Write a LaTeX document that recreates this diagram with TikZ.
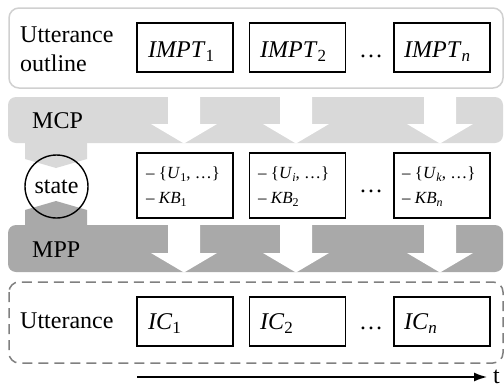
\documentclass[tikz,border=0pt]{standalone}
\usepackage{fontspec}
\setmainfont{LiberationSerif}[Extension=.ttf, UprightFont=*-Regular, ItalicFont=*-Italic, BoldFont=*-Bold, BoldItalicFont=*-BoldItalic]
\usetikzlibrary{arrows.meta}
\definecolor{bandlight}{HTML}{D9D9D9}
\definecolor{banddark}{HTML}{A9A9A9}
\definecolor{outlinegray}{HTML}{D0D0D0}
\definecolor{dashgray}{HTML}{808080}
\newcommand{\subL}[1]{\raisebox{-4pt}{\fontsize{17}{17}\selectfont #1}}
\newcommand{\subS}[1]{\raisebox{-3pt}{\fontsize{12}{12}\selectfont #1}}
\tikzset{
  big/.style={font=\rmfamily\fontsize{24}{30}\selectfont},
  lbl/.style={big, anchor=base west, inner sep=0pt, align=left},
  itembox/.style={draw, line width=1.4pt, minimum width=96pt, inner sep=0pt},
  itemtext/.style={big, anchor=base west, inner sep=0pt},
  smalltext/.style={font=\rmfamily\fontsize{17}{25}\selectfont, anchor=base west, inner sep=0pt, align=left},
  cutarrow/.style={fill=white}
}
\begin{document}
\begin{tikzpicture}[x=1pt,y=-1pt]
\useasboundingbox (0,0) rectangle (504,386);
% ---------- top: utterance outline
\draw[outlinegray, line width=1.5pt, rounded corners=10pt] (9,8) rectangle (503,88);
\node[lbl] (ol1) at (20,42) {Utterance};
\node[lbl] (ol2) at (20,71) {outline};
\node[itembox, minimum height=49pt] (i1) at (185,47.5) {};
\node[itembox, minimum height=49pt] (i2) at (297.5,47.5) {};
\node[itembox, minimum height=49pt] (i3) at (442,47.5) {};
\node[itemtext] (i1t) at (148,57) {\textit{IMPT}\subL{1}};
\node[itemtext] (i2t) at (260,57) {\textit{IMPT}\subL{2}};
\node[itemtext] (i3t) at (404,57) {\textit{IMPT}\subL{\textit{n}}};
\node[itemtext] (idots) at (359,57) {\dots};
% ---------- MCP band
\fill[bandlight, rounded corners=8pt] (8,97) rectangle (503,143);
\fill[bandlight] (25,140) -- (25,159) -- (56,168) -- (87,159) -- (87,140) -- cycle;
\foreach \c in {184,296,440}{
  \fill[cutarrow] (\c-16,96) -- (\c-16,124) -- (\c-33,124) -- (\c,143.5) -- (\c+33,124) -- (\c+16,124) -- (\c+16,96) -- cycle;
}
\node[lbl] (mcp) at (32,128) {MCP};
% ---------- MPP band
\fill[banddark, rounded corners=8pt] (8,225) rectangle (503,272);
\fill[banddark] (25,228) -- (25,210) -- (56,201) -- (87,210) -- (87,228) -- cycle;
\foreach \c in {184,296,440}{
  \fill[cutarrow] (\c-16,224) -- (\c-16,253) -- (\c-33,253) -- (\c,272.5) -- (\c+33,253) -- (\c+16,253) -- (\c+16,224) -- cycle;
}
\node[lbl] (mpp) at (32,257) {MPP};
% ---------- state
\node[draw, circle, line width=1.4pt, minimum size=63pt, inner sep=0pt, big] (state) at (56.5,186.5) {state};
% ---------- middle boxes
\node[itembox, minimum height=65pt] (m1) at (185,185.5) {};
\node[itembox, minimum height=65pt] (m2) at (297.5,185.5) {};
\node[itembox, minimum height=65pt] (m3) at (442,185.5) {};
\node[smalltext] (m1t) at (146,203) {– \{\textit{U}\subS{1}, …\}\\– \textit{KB}\subS{1}};
\node[smalltext] (m2t) at (258,203) {– \{\textit{U}\subS{\textit{i}}, …\}\\– \textit{KB}\subS{2}};
\node[smalltext] (m3t) at (402,203) {– \{\textit{U}\subS{\textit{k}}, …\}\\– \textit{KB}\subS{\textit{n}}};
\node[itemtext] (mdots) at (359,192) {\dots};
% ---------- bottom: utterance
\draw[dashgray, line width=1.5pt, dash pattern=on 10pt off 6pt, rounded corners=10pt] (9,282) rectangle (503,363);
\node[lbl] (ut) at (20,328) {Utterance};
\node[itembox, minimum height=49pt] (c1) at (185,321.5) {};
\node[itembox, minimum height=49pt] (c2) at (297.5,321.5) {};
\node[itembox, minimum height=49pt] (c3) at (442,321.5) {};
\node[itemtext] (c1t) at (148,329) {\textit{IC}\subL{1}};
\node[itemtext] (c2t) at (260,329) {\textit{IC}\subL{2}};
\node[itemtext] (c3t) at (404,329) {\textit{IC}\subL{\textit{n}}};
\node[itemtext] (cdots) at (359,329) {\dots};
% ---------- time axis
\coordinate (tstart) at (137,377);
\coordinate (tend) at (487,377);
\draw[line width=1.5pt, -{Latex[length=13pt,width=9pt]}] (tstart) -- (tend);
\node[itemtext] (t) at (493,383) {t};
\end{tikzpicture}
\end{document}
